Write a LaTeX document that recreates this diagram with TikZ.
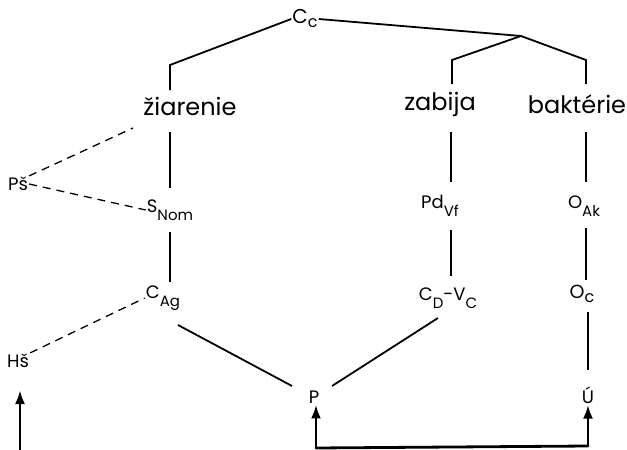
\documentclass[tikz,border=0pt]{standalone}
\usepackage{fontspec}
\setmainfont{Poppins}
\usetikzlibrary{arrows.meta}
\newcommand{\lo}[1]{\raisebox{-0.42em}{\fontsize{15}{15}\selectfont #1}}
\newcommand{\lc}[1]{\raisebox{-0.2em}{\fontsize{16}{16}\selectfont #1}}
\tikzset{
  lbl/.style={inner sep=1pt, font=\fontsize{18}{18}\selectfont},
  word/.style={inner sep=1pt, font=\fontsize{24}{24}\selectfont},
  edge/.style={line width=1.8pt},
  link/.style={line width=1.3pt, dash pattern=on 8pt off 6pt},
  flow/.style={line width=2.8pt, -{Latex[length=14pt,width=10pt]}},
}
\begin{document}
\begin{tikzpicture}[x=1pt,y=-1pt]
\useasboundingbox (0,0) rectangle (627,450);

% labels
\node[lbl, font=\fontsize{20}{20}\selectfont] (cc) at (305,19) {C\lc{c}};
\node[word] (zi) at (190,106) {žiarenie};
\node[word] (za) at (440,104) {zabija};
\node[word] (ba) at (577,104) {baktérie};
\node[lbl] (sn) at (170,210) {S\lo{Nom}};
\node[lbl] (ca) at (163,298) {C\lo{Ag}};
\node[lbl] (pd) at (440,206) {Pd\lo{Vf}};
\node[lbl] (cd) at (448,298) {C\lo{D}-V\lo{C}};
\node[lbl] (oa) at (584,206) {O\lo{Ak}};
\node[lbl, font=\fontsize{19}{19}\selectfont] (oc) at (582,294) {O\lc{c}};
\node[lbl] (p) at (314,397) {P};
\node[lbl] (u) at (588,395) {Ú};
\node[lbl] (ps) at (18,184) {Pš};
\node[lbl] (hs) at (18,361) {Hš};

% bracket points of the tree
\coordinate (j) at (521,36);
\coordinate (zl) at (170,65);
\coordinate (zr) at (452,60);
\coordinate (br) at (586,60);
\coordinate (pin) at (316,448);
\coordinate (uin) at (588,446);
\coordinate (hin) at (20,450);

% tree
\draw[edge] (cc.west) -- (zl) -- (170,90);
\draw[edge] (cc.east) -- (j);
\draw[edge] (j) -- (zr) -- (452,84);
\draw[edge] (j) -- (br) -- (586,84);

% columns
\draw[edge] (170,132) -- (170,188);
\draw[edge] (170,232) -- (170,282);
\draw[edge] (451,132) -- (451,182);
\draw[edge] (451,230) -- (451,276);
\draw[edge] (586,132) -- (586,182);
\draw[edge] (586,228) -- (586,280);
\draw[edge] (588,312) -- (588,370);

% converging lines to P
\draw[edge] (178,325) -- (292,386);
\draw[edge] (332,386) -- (438,318);

% dashed links
\draw[link] (ps.north east) -- (133,128);
\draw[link] (ps.east) -- (sn.west);
\draw[link] (hs.north east) -- (ca.west);

% inputs
\draw[flow] (hin) -- (20,390);
\draw[flow] (pin) -- (pin |- p.south);
\draw[line width=2.8pt, line cap=round] (pin) -- (uin);
\draw[flow] (uin) -- (uin |- u.south);
\end{tikzpicture}
\end{document}
